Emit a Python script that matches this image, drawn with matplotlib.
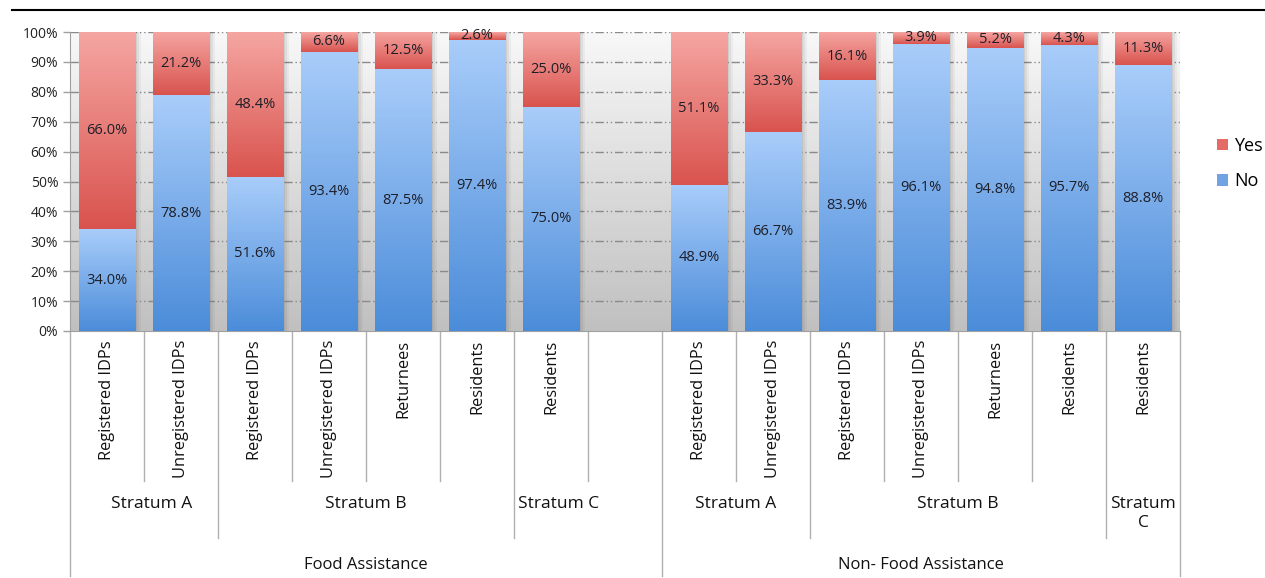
import numpy as np
import matplotlib
matplotlib.use('Agg')
import matplotlib.pyplot as plt
from matplotlib.colors import LinearSegmentedColormap
from matplotlib.patches import Patch
from matplotlib.lines import Line2D

plt.rcParams['font.family'] = ['Open Sans', 'DejaVu Sans']

# ---------------------------------------------------------------
# data
categories = ['Registered IDPs', 'Unregistered IDPs',
              'Registered IDPs', 'Unregistered IDPs', 'Returnees', 'Residents',
              'Residents', '',
              'Registered IDPs', 'Unregistered IDPs',
              'Registered IDPs', 'Unregistered IDPs', 'Returnees', 'Residents',
              'Residents']
no_vals = [34.0, 78.8, 51.6, 93.4, 87.5, 97.4, 75.0, np.nan,
           48.9, 66.7, 83.9, 96.1, 94.8, 95.7, 88.8]
yes_vals = [66.0, 21.2, 48.4, 6.6, 12.5, 2.6, 25.0, np.nan,
            51.1, 33.3, 16.1, 3.9, 5.2, 4.3, 11.3]

strata = ['Stratum A', 'Stratum B', 'Stratum C', 'Stratum A', 'Stratum B', 'Stratum\nC']
strata_x = [0.6, 3.5, 6.1, 8.5, 11.5, 14.0]
assistance = ['Food Assistance', 'Non- Food Assistance']
assistance_x = [3.5, 11.0]

cat_lines = [0.5, 2.5, 3.5, 4.5, 6.5, 8.5, 10.5, 11.5, 12.5]
stratum_lines = [1.5, 5.5, 9.5, 13.5]
outer_lines = [-0.5, 7.5, 14.5]

# ---------------------------------------------------------------
fig = plt.figure(figsize=(12.65, 5.78), dpi=100)
ax = fig.add_axes([70/1265, 1 - 331/578, 1110/1265, 299/578])

x = np.arange(len(categories))
bw = 0.77

blue_cm = LinearSegmentedColormap.from_list('b', ['#4b8cd9', '#a9cdfa'])
red_cm = LinearSegmentedColormap.from_list('r', ['#d9534e', '#f5a6a2'])
bg_cm = LinearSegmentedColormap.from_list('g', ['#c0c0c0', '#f8f8f8'])
grad = np.linspace(0, 1, 256).reshape(-1, 1)

# background
ax.imshow(grad, extent=[-0.5, 14.5, 0, 100], origin='lower', aspect='auto',
          cmap=bg_cm, zorder=0)

# grid
for v in range(10, 101, 10):
    ax.axhline(v, color='#8a8a8a', lw=1, linestyle=(0, (6, 2, 1, 2, 1, 2)), zorder=1)

no_bars = ax.bar(x, no_vals, bw, color='#7aaeea', label='No', zorder=3)
yes_bars = ax.bar(x, yes_vals, bw, bottom=no_vals, color='#e8807c', label='Yes', zorder=3)

# shadows and gradient fills
px = 1 / 74.0
for bars, cm in [(no_bars, blue_cm), (yes_bars, red_cm)]:
    for p in bars.patches:
        bx, by, w, h = p.get_x(), p.get_y(), p.get_width(), p.get_height()
        if np.isnan(h) or np.isnan(by):
            continue
        for k, a in [(6, 0.06), (4, 0.08), (2, 0.10)]:
            ax.add_patch(plt.Rectangle((bx + k * px, by), w, h, color='#505050',
                                       alpha=a, lw=0, zorder=2))
        ax.imshow(grad, extent=[bx, bx + w, by, by + h], origin='lower',
                  aspect='auto', cmap=cm, zorder=4)

# value labels
for i in range(len(categories)):
    if np.isnan(no_vals[i]):
        continue
    ax.text(x[i], no_vals[i] / 2, '%.1f%%' % no_vals[i], ha='center', va='center',
            fontsize=10.5, color='#1e1e28', zorder=5)
    ax.text(x[i], no_vals[i] + yes_vals[i] / 2, '%.1f%%' % yes_vals[i], ha='center',
            va='center', fontsize=10.5, color='#1e1e28', zorder=5)

ax.set_xlim(-0.5, 14.5)
ax.set_ylim(0, 100)
ax.set_yticks(range(0, 101, 10))
ax.set_yticklabels(['%d%%' % v for v in range(0, 101, 10)], fontsize=10, color='#222222')
ax.set_xticks([])
ax.tick_params(axis='y', length=5, color='#a0a0a0', width=1)
for s in ['top', 'right']:
    ax.spines[s].set_visible(False)
ax.spines['left'].set_color('#a0a0a0')
ax.spines['bottom'].set_color('#a0a0a0')

# multi level category axis
tr = ax.get_xaxis_transform()
for i, c in enumerate(categories):
    ax.text(x[i], -0.03, c, rotation=90, ha='center', va='top', fontsize=11.8,
            color='#111111', transform=tr)
for xl in cat_lines:
    ax.plot([xl, xl], [0, -0.5], color='#b0b0b0', lw=1, transform=tr, clip_on=False)
for xl in stratum_lines:
    ax.plot([xl, xl], [0, -0.693], color='#b0b0b0', lw=1, transform=tr, clip_on=False)
for xl in outer_lines:
    ax.plot([xl, xl], [0, -0.82], color='#b0b0b0', lw=1, transform=tr, clip_on=False)
for s, sx in zip(strata, strata_x):
    ax.text(sx, -0.553, s, ha='center', va='top', fontsize=12.5, color='#111111',
            transform=tr, linespacing=1.2)
for a, axx in zip(assistance, assistance_x):
    ax.text(axx, -0.783, a, ha='center', va='center', fontsize=12, color='#111111',
            transform=tr)

# legend
handles = [Patch(facecolor='#e56b66', edgecolor='none', label='Yes'),
           Patch(facecolor='#6fa3e3', edgecolor='none', label='No')]
fig.legend(handles=handles, loc='upper left', bbox_to_anchor=(1208/1265, 1 - 128/578),
           frameon=False, fontsize=13, handlelength=0.6, handleheight=0.6,
           handletextpad=0.35, labelspacing=0.95, borderpad=0)

# page rule at the top
fig.add_artist(Line2D([12/1265, 1.0], [1 - 10/578, 1 - 10/578], color='black', lw=1.5))

plt.savefig('out.png', dpi=100)
